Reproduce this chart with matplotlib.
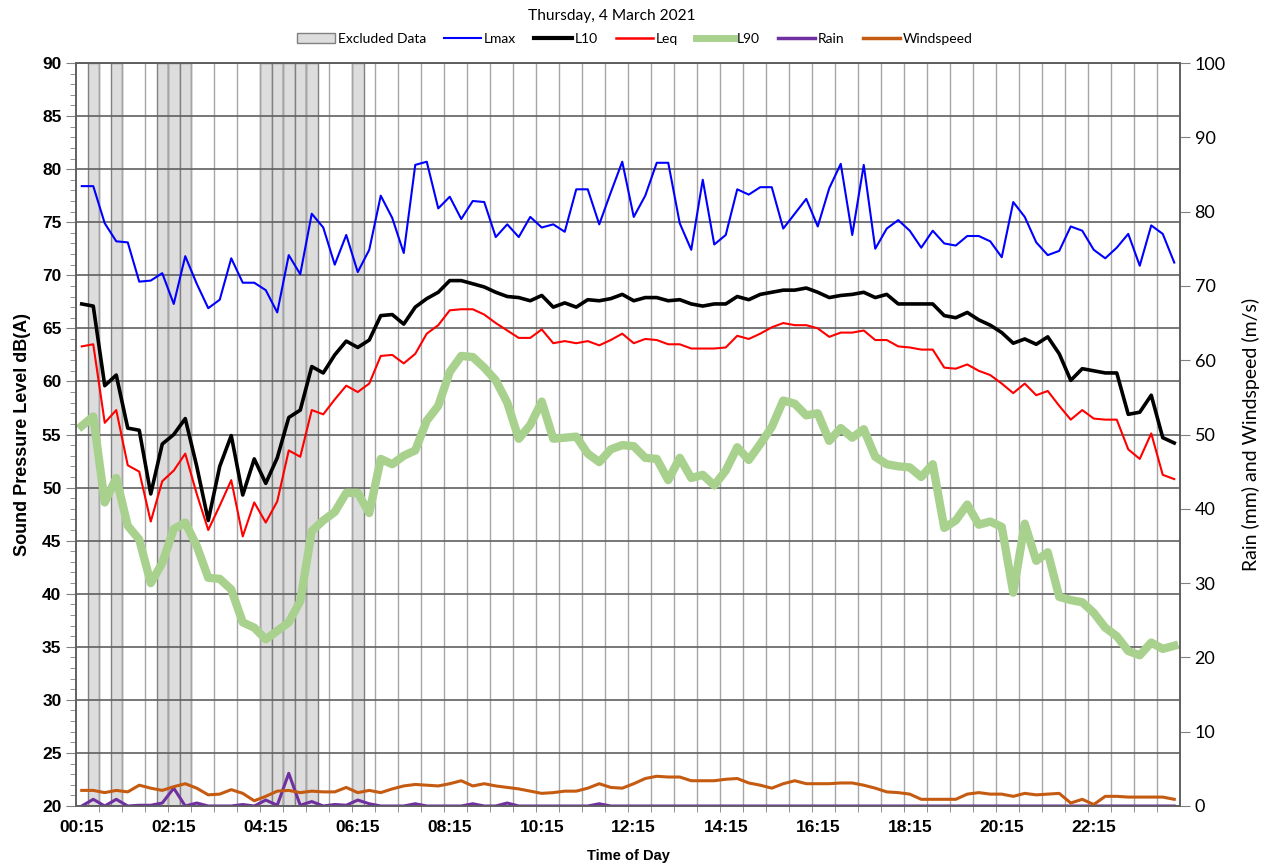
import numpy as np
import matplotlib
matplotlib.use('Agg')
import matplotlib.pyplot as plt
import matplotlib.patches as mpatches
from matplotlib.lines import Line2D
from matplotlib.ticker import MultipleLocator, FixedLocator

# 15 minute periods, 00:15 .. 24:00
lmax = [78.4, 78.4, 74.9, 73.2, 73.1, 69.4, 69.5, 70.2, 67.3, 71.8,
        69.2, 66.9, 67.7, 71.6, 69.3, 69.3, 68.6, 66.5, 71.9, 70.1,
        75.8, 74.5, 71.0, 73.8, 70.3, 72.4, 77.5, 75.4, 72.1, 80.4,
        80.7, 76.3, 77.4, 75.3, 77.0, 76.9, 73.6, 74.8, 73.6, 75.5,
        74.5, 74.8, 74.1, 78.1, 78.1, 74.8, 77.8, 80.7, 75.5, 77.5,
        80.6, 80.6, 74.9, 72.4, 79.0, 72.9, 73.8, 78.1, 77.6, 78.3,
        78.3, 74.4, 75.8, 77.2, 74.6, 78.2, 80.5, 73.8, 80.4, 72.5,
        74.4, 75.2, 74.2, 72.6, 74.2, 73.0, 72.8, 73.7, 73.7, 73.2,
        71.7, 76.9, 75.5, 73.1, 71.9, 72.3, 74.6, 74.2, 72.4, 71.6,
        72.6, 73.9, 70.9, 74.7, 73.9, 71.2]
l10 = [67.3, 67.1, 59.6, 60.6, 55.6, 55.4, 49.4, 54.1, 55.0, 56.5,
       52.0, 46.9, 52.0, 54.9, 49.3, 52.7, 50.4, 52.8, 56.6, 57.3,
       61.4, 60.8, 62.5, 63.8, 63.2, 63.9, 66.2, 66.3, 65.4, 67.0,
       67.8, 68.4, 69.5, 69.5, 69.2, 68.9, 68.4, 68.0, 67.9, 67.6,
       68.1, 67.0, 67.4, 67.0, 67.7, 67.6, 67.8, 68.2, 67.6, 67.9,
       67.9, 67.6, 67.7, 67.3, 67.1, 67.3, 67.3, 68.0, 67.7, 68.2,
       68.4, 68.6, 68.6, 68.8, 68.4, 67.9, 68.1, 68.2, 68.4, 67.9,
       68.2, 67.3, 67.3, 67.3, 67.3, 66.2, 66.0, 66.5, 65.8, 65.3,
       64.6, 63.6, 64.0, 63.5, 64.2, 62.6, 60.1, 61.2, 61.0, 60.8,
       60.8, 56.9, 57.1, 58.7, 54.7, 54.2]
leq = [63.3, 63.5, 56.1, 57.3, 52.1, 51.5, 46.8, 50.6, 51.6, 53.2,
       49.4, 46.0, 48.3, 50.7, 45.4, 48.6, 46.7, 48.7, 53.5, 52.9,
       57.3, 56.9, 58.3, 59.6, 59.0, 59.8, 62.4, 62.5, 61.7, 62.6,
       64.5, 65.3, 66.7, 66.8, 66.8, 66.3, 65.5, 64.8, 64.1, 64.1,
       64.9, 63.6, 63.8, 63.6, 63.8, 63.4, 63.9, 64.5, 63.6, 64.0,
       63.9, 63.5, 63.5, 63.1, 63.1, 63.1, 63.2, 64.3, 64.0, 64.5,
       65.1, 65.5, 65.3, 65.3, 65.0, 64.2, 64.6, 64.6, 64.8, 63.9,
       63.9, 63.3, 63.2, 63.0, 63.0, 61.3, 61.2, 61.6, 61.0, 60.6,
       59.8, 58.9, 59.8, 58.7, 59.1, 57.7, 56.4, 57.3, 56.5, 56.4,
       56.4, 53.6, 52.7, 55.1, 51.2, 50.8]
l90 = [55.8, 56.7, 48.6, 50.9, 46.4, 45.1, 41.0, 42.9, 46.1, 46.7,
       44.5, 41.5, 41.4, 40.4, 37.3, 36.8, 35.7, 36.5, 37.3, 39.3,
       45.9, 46.9, 47.7, 49.5, 49.5, 47.6, 52.7, 52.2, 53.0, 53.5,
       56.3, 57.7, 60.9, 62.4, 62.3, 61.3, 60.1, 58.0, 54.6, 55.9,
       58.1, 54.6, 54.7, 54.8, 53.2, 52.4, 53.6, 54.0, 53.9, 52.8,
       52.7, 50.7, 52.8, 50.9, 51.2, 50.2, 51.6, 53.8, 52.6, 54.1,
       55.7, 58.2, 57.9, 56.8, 57.0, 54.4, 55.6, 54.7, 55.5, 52.9,
       52.2, 52.0, 51.9, 51.0, 52.2, 46.2, 46.9, 48.4, 46.5, 46.8,
       46.3, 40.1, 46.6, 43.1, 43.9, 39.7, 39.4, 39.2, 38.2, 36.8,
       36.0, 34.6, 34.2, 35.4, 34.8, 35.1]
rain = [0, 0.9, 0, 0.9, 0, 0.1, 0.1, 0.4, 2.4, 0,
        0.4, 0, 0, 0, 0.2, 0, 0.8, 0.1, 4.4, 0.1,
        0.6, 0, 0.2, 0.1, 0.8, 0.3, 0, 0, 0, 0.3,
        0, 0, 0, 0, 0.3, 0, 0, 0.4, 0, 0,
        0, 0, 0, 0, 0, 0.3, 0, 0, 0, 0] + [0] * 46
wind = [2.1, 2.1, 1.8, 2.1, 1.9, 2.8, 2.4, 2.1, 2.6, 3.0,
        2.4, 1.5, 1.6, 2.2, 1.7, 0.7, 1.3, 2.0, 2.1, 1.8,
        2.0, 1.9, 1.9, 2.5, 1.8, 2.1, 1.8, 2.3, 2.7, 2.9,
        2.8, 2.7, 3.0, 3.4, 2.7, 3.0, 2.7, 2.5, 2.3, 2.0,
        1.7, 1.8, 2.0, 2.0, 2.4, 3.0, 2.5, 2.4, 3.0, 3.7,
        4.0, 3.9, 3.9, 3.4, 3.4, 3.4, 3.6, 3.7, 3.1, 2.8,
        2.4, 3.0, 3.4, 3.0, 3.0, 3.0, 3.1, 3.1, 2.8, 2.4,
        1.9, 1.8, 1.6, 0.9, 0.9, 0.9, 0.9, 1.6, 1.8, 1.6,
        1.6, 1.3, 1.7, 1.5, 1.6, 1.7, 0.4, 0.9, 0.2, 1.3,
        1.3, 1.2, 1.2, 1.2, 1.2, 0.9]
excluded = [1, 3, 7, 8, 9, 16, 17, 18, 19, 20, 24]
tick_labels = ['00:15', '02:15', '04:15', '06:15', '08:15', '10:15',
               '12:15', '14:15', '16:15', '18:15', '20:15', '22:15']

n = len(lmax)
x = np.arange(n)

fig = plt.figure(figsize=(12.66, 8.64), dpi=100)
ax = fig.add_axes([76/1266, 1-806/864, (1180-76)/1266, (806-63)/864])
ax2 = ax.twinx()

for i in excluded:
    ax.axvspan(i-0.5, i+0.5, facecolor='#DDDDDD', edgecolor='#808080', lw=1, zorder=1)

ax.plot(x, lmax, color='#0000FF', lw=1.5, zorder=3)
ax.plot(x, l10, color='black', lw=2.6, zorder=3)
ax.plot(x, leq, color='#FF0000', lw=1.5, zorder=3)
ax.plot(x, l90, color='#A9D18E', lw=6, zorder=2.5, solid_joinstyle='round')
ax2.plot(x, rain, color='#7030A0', lw=2.2)
ax2.plot(x, wind, color='#C55A11', lw=2.2)

ax.set_xlim(-0.5, n-0.5)
ax.set_ylim(20, 90)
ax2.set_ylim(0, 100)

ax.yaxis.set_major_locator(MultipleLocator(5))
ax.yaxis.set_minor_locator(MultipleLocator(1))
ax2.yaxis.set_major_locator(MultipleLocator(10))

# labels every 2 h, grid and ticks every 30 min
ax.xaxis.set_major_locator(FixedLocator(x[::8]))
ax.set_xticklabels(tick_labels)
ax.xaxis.set_minor_locator(FixedLocator(np.arange(1.5, n-0.5, 2)))
ax.tick_params(axis='x', which='major', length=0, pad=10)
ax.tick_params(axis='x', which='minor', length=4, direction='out', color='#808080')
ax.grid(True, axis='x', which='minor', color='#A6A6A6', lw=1)
ax.grid(True, axis='y', which='major', color='#606060', lw=1.2)
ax.set_axisbelow('line')

ax.tick_params(axis='y', which='major', length=7, direction='out', color='#808080')
ax.tick_params(axis='y', which='minor', length=4, direction='out', color='#808080')
ax2.tick_params(axis='y', which='major', length=7, direction='out', color='#808080')

for lab in ax.get_xticklabels() + ax.get_yticklabels():
    lab.set_fontfamily('Liberation Sans')
    lab.set_fontweight('bold')
    lab.set_fontsize(12.5)
for lab in ax2.get_yticklabels():
    lab.set_fontfamily('Lato')
    lab.set_fontsize(13)

for a in (ax, ax2):
    for s in a.spines.values():
        s.set_color('#606060')
        s.set_linewidth(1.2)

ax.set_ylabel('Sound Pressure Level dB(A)', fontfamily=['Liberation Sans Narrow', 'Liberation Sans'],
              fontweight='bold', fontsize=13, labelpad=8)
ax2.set_ylabel('Rain (mm) and Windspeed (m/s)', fontfamily='Lato',
               fontsize=14, labelpad=12)
ax.set_xlabel('Time of Day', fontfamily='Liberation Sans', fontweight='bold',
              fontsize=10.5, labelpad=10)

fig.text(612/1266, 0.981, 'Thursday, 4 March 2021', ha='center', va='center',
         fontfamily='Lato', fontsize=11.2)

handles = [mpatches.Patch(facecolor='#DDDDDD', edgecolor='#808080', lw=1),
           Line2D([], [], color='#0000FF', lw=1.5),
           Line2D([], [], color='black', lw=3),
           Line2D([], [], color='#FF0000', lw=1.8),
           Line2D([], [], color='#A9D18E', lw=5),
           Line2D([], [], color='#7030A0', lw=2.5),
           Line2D([], [], color='#C55A11', lw=2.5)]
names = ['Excluded Data', 'Lmax', 'L10', 'Leq', 'L90', 'Rain', 'Windspeed']
fig.legend(handles, names, loc='center', bbox_to_anchor=(635/1266, 0.955), ncol=7,
           frameon=False, prop={'family': 'Lato', 'size': 10},
           handlelength=2.7, handletextpad=0.2, columnspacing=1.3)

plt.savefig('out.png', dpi=100)
